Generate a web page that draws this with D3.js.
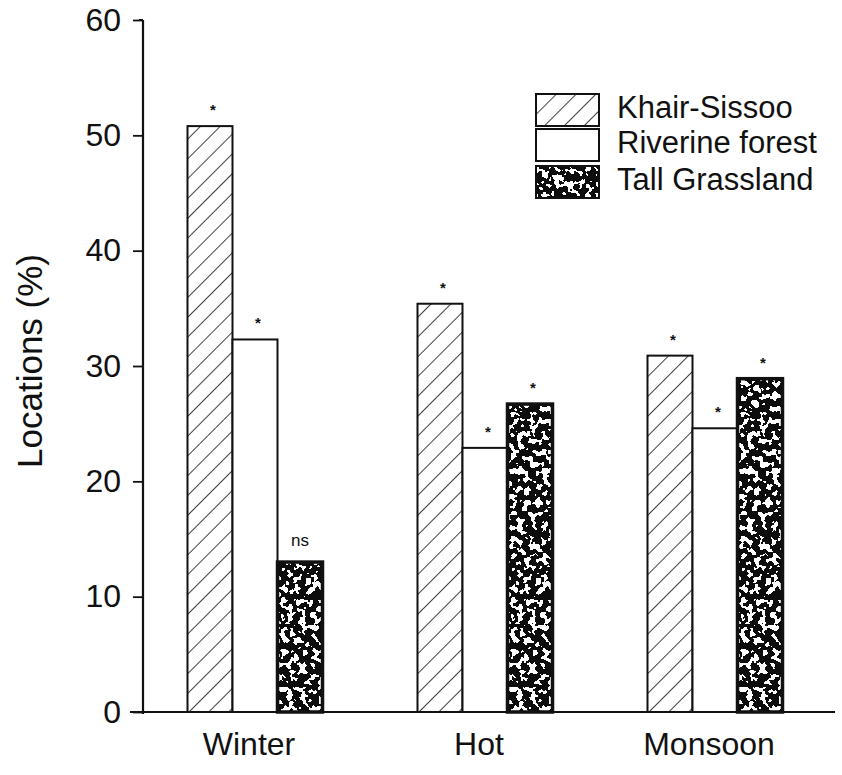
<!DOCTYPE html>
<html lang="en">
<head>
    <meta charset="UTF-8">
    <title>Locations by season and habitat</title>
    <script src="https://d3js.org/d3.v7.min.js"></script>
    <style>
        body { margin: 0; background: #fff; }
        svg text { font-family: "Liberation Sans", Arial, Helvetica, sans-serif; fill: #111; }
    </style>
</head>
<body>
    <svg width="842" height="775"></svg>
    <script>
        // data
        const seasons = ["Winter", "Hot", "Monsoon"];
        const habitats = ["Khair-Sissoo", "Riverine forest", "Tall Grassland"];
        const khairSissoo = [50.8, 35.4, 30.9];
        const riverine = [32.3, 22.9, 24.6];
        const tallGrass = [13.0, 26.7, 28.9];
        const sigMarks = [["*", "*", "ns"], ["*", "*", "*"], ["*", "*", "*"]];
        const yTicks = [0, 10, 20, 30, 40, 50, 60];

        const series = [khairSissoo, riverine, tallGrass];
        const svg = d3.select("svg");
        const axisX = 143, baseY = 712;

        const y = d3.scaleLinear().domain([0, 60]).range([baseY, 20]);
        const x0 = d3.scaleBand().domain(seasons).range([140, 830])
            .paddingInner(0.413).paddingOuter(0.2065);
        const x1 = d3.scaleBand().domain(habitats).range([0, x0.bandwidth()]);

        const defs = svg.append("defs");

        // diagonal hatching
        const hatch = defs.append("pattern")
            .attr("id", "hatch").attr("patternUnits", "userSpaceOnUse")
            .attr("width", 14).attr("height", 14)
            .attr("patternTransform", "rotate(45)");
        hatch.append("rect").attr("width", 14).attr("height", 14).attr("fill", "#fff");
        hatch.append("line").attr("x1", 0).attr("y1", 0).attr("x2", 0).attr("y2", 14)
            .attr("stroke", "#111").attr("stroke-width", 1.6);

        // speckled black fill for grassland
        const f = defs.append("filter").attr("id", "speckle")
            .attr("x", 0).attr("y", 0).attr("width", 1).attr("height", 1);
        f.append("feTurbulence").attr("type", "fractalNoise")
            .attr("baseFrequency", 0.16).attr("numOctaves", 2).attr("seed", 7).attr("result", "noise");
        f.append("feColorMatrix").attr("in", "noise").attr("type", "matrix")
            .attr("values", "0 0 0 0 1  0 0 0 0 1  0 0 0 0 1  1 0 0 0 0").attr("result", "white");
        const ct = f.append("feComponentTransfer").attr("in", "white").attr("result", "spots");
        ct.append("feFuncA").attr("type", "discrete")
            .attr("tableValues", "0 0 0 0 0 0 0 0 0 0 0 1 1 1 1 1 1 1 1 1");
        f.append("feComposite").attr("in", "spots").attr("in2", "SourceGraphic")
            .attr("operator", "in").attr("result", "clipped");
        const merge = f.append("feMerge");
        merge.append("feMergeNode").attr("in", "SourceGraphic");
        merge.append("feMergeNode").attr("in", "clipped");

        const fills = ["url(#hatch)", "#fff", "#111"];

        // bars
        const groups = svg.append("g").selectAll("g")
            .data(seasons).join("g")
            .attr("transform", s => `translate(${x0(s)},0)`);

        groups.each(function (s, i) {
            const g = d3.select(this);
            habitats.forEach((h, j) => {
                const v = series[j][i];
                const bx = x1(h), bw = x1.bandwidth();
                const r = g.append("rect")
                    .attr("x", bx).attr("y", y(v))
                    .attr("width", bw).attr("height", baseY - y(v))
                    .attr("fill", fills[j]);
                if (j === 2) r.attr("filter", "url(#speckle)");
                g.append("rect")
                    .attr("x", bx).attr("y", y(v))
                    .attr("width", bw).attr("height", baseY - y(v))
                    .attr("fill", "none").attr("stroke", "#111")
                    .attr("stroke-width", j === 2 ? 3.5 : 2);
                const m = sigMarks[i][j];
                g.append("text")
                    .attr("x", bx + bw / 2 + (m === "ns" ? 0 : 3))
                    .attr("y", y(v) - (m === "ns" ? 16 : 11))
                    .attr("text-anchor", "middle")
                    .attr("font-size", m === "ns" ? 17 : 15)
                    .attr("font-weight", m === "ns" ? "normal" : "bold")
                    .text(m);
            });
        });

        // y axis
        const yAxis = svg.append("g")
            .attr("transform", `translate(${axisX},0)`)
            .call(d3.axisLeft(y).tickValues(yTicks).tickSize(10).tickPadding(12));
        yAxis.select(".domain").attr("d", `M0,${y(60)}H-4M0,${y(60)}V${baseY + 2}`)
            .attr("stroke", "#111").attr("stroke-width", 2.2);
        yAxis.selectAll(".tick line").attr("stroke", "#111").attr("stroke-width", 1.8)
            .attr("x1", 0).attr("x2", -10);
        yAxis.selectAll(".tick text").attr("font-size", 32)
            .attr("font-family", "Liberation Sans, Arial, sans-serif").attr("fill", "#111");

        // x axis baseline + labels
        const xAxis = svg.append("g")
            .attr("transform", `translate(0,${baseY})`)
            .call(d3.axisBottom(x0).tickSize(0).tickPadding(20));
        xAxis.select(".domain").attr("d", `M130,0H835`)
            .attr("stroke", "#111").attr("stroke-width", 2);
        xAxis.selectAll(".tick text").attr("font-size", 32)
            .attr("font-family", "Liberation Sans, Arial, sans-serif").attr("fill", "#111")
            .attr("dx", -6);

        // y title
        svg.append("text")
            .attr("transform", "translate(42,361) rotate(-90)")
            .attr("text-anchor", "middle")
            .attr("font-size", 35)
            .text("Locations (%)");

        // legend
        const legend = svg.append("g").attr("transform", "translate(536,94)");
        const rowY = [0, 35, 72];
        habitats.forEach((h, j) => {
            const r = legend.append("rect")
                .attr("x", 0).attr("y", rowY[j]).attr("width", 63).attr("height", 32)
                .attr("fill", fills[j]);
            if (j === 2) r.attr("filter", "url(#speckle)");
            legend.append("rect")
                .attr("x", 0).attr("y", rowY[j]).attr("width", 63).attr("height", 32)
                .attr("fill", "none").attr("stroke", "#111").attr("stroke-width", 2);
            legend.append("text")
                .attr("x", 81).attr("y", rowY[j] + 24)
                .attr("font-size", 31)
                .text(h);
        });
    </script>
</body>
</html>
